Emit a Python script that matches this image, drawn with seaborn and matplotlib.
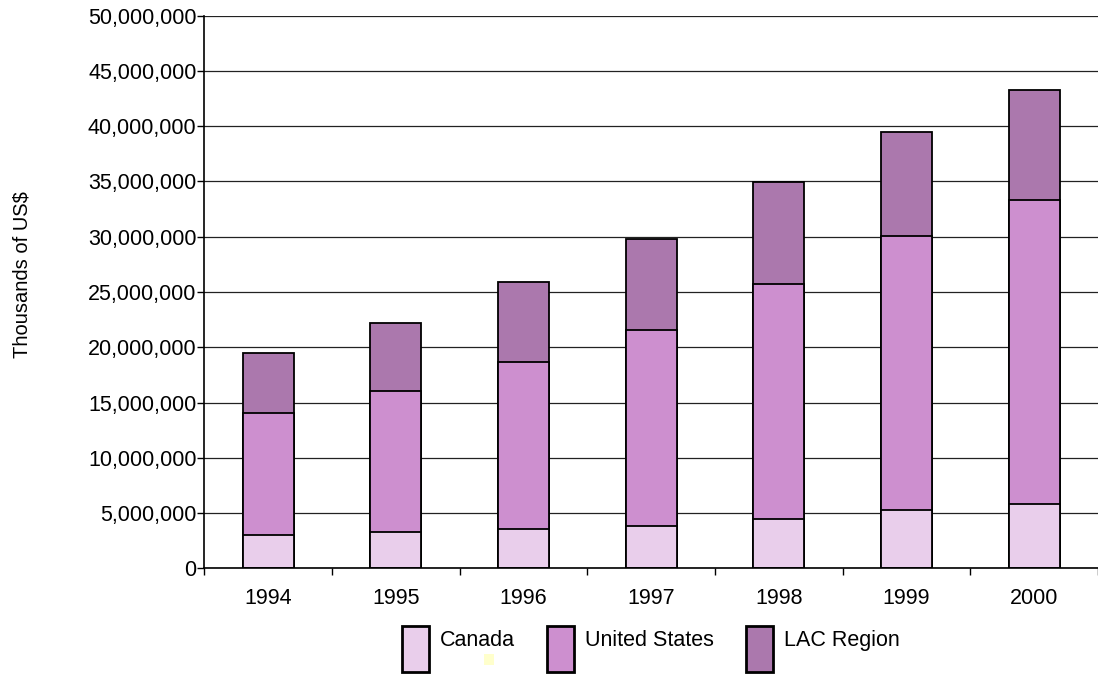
import matplotlib
matplotlib.use("Agg")
import matplotlib.pyplot as plt
import matplotlib.patches as mpatches
import matplotlib.ticker as mticker
import matplotlib.transforms as mtransforms
import numpy as np
import pandas as pd
import seaborn as sns

# Exports by destination, thousands of US$
years = ["1994", "1995", "1996", "1997", "1998", "1999", "2000"]
canada = [2980000, 3250000, 3530000, 3860000, 4490000, 5310000, 5820000]
united_states = [11070000, 12750000, 15160000, 17720000, 21250000, 24770000, 27540000]
lac_region = [5430000, 6150000, 7170000, 8200000, 9160000, 9420000, 9860000]
series_names = ["Canada", "United States", "LAC Region"]
series_colors = ["#e9ceeb", "#cd8fcf", "#ab78ad"]
ytick_values = list(range(0, 50000001, 5000000))

sns.set_style("white")
plt.rcParams["font.family"] = ["Liberation Sans", "DejaVu Sans"]
plt.rcParams["text.color"] = "black"
plt.rcParams["xtick.color"] = "black"
plt.rcParams["ytick.color"] = "black"
plt.rcParams["xtick.labelcolor"] = "black"
plt.rcParams["ytick.labelcolor"] = "black"

df = pd.DataFrame({
    "year": years,
    "Canada": canada,
    "United States": united_states,
    "LAC Region": lac_region,
})
df["cum_canada"] = df["Canada"]
df["cum_us"] = df["cum_canada"] + df["United States"]
df["cum_lac"] = df["cum_us"] + df["LAC Region"]

fig = plt.figure(figsize=(10.98, 6.75), dpi=100)
ax = fig.add_axes([0.186, 0.158, 0.814, 0.819])

# Horizontal gridlines behind the bars
ax.set_axisbelow(True)
ax.yaxis.grid(True, color="#222222", linewidth=0.9)
ax.xaxis.grid(False)

# Stacked bars: draw cumulative totals from the top segment down
bar_kw = dict(width=0.4, edgecolor="black", linewidth=1.3, ax=ax, errorbar=None)
sns.barplot(data=df, x="year", y="cum_lac", color=series_colors[2], saturation=1, **bar_kw)
sns.barplot(data=df, x="year", y="cum_us", color=series_colors[1], saturation=1, **bar_kw)
sns.barplot(data=df, x="year", y="cum_canada", color=series_colors[0], saturation=1, **bar_kw)

ax.set_xlim(-0.5, len(years) - 0.5)
ax.set_ylim(0, 50000000)
ax.set_yticks(ytick_values)
ax.yaxis.set_major_formatter(mticker.FuncFormatter(lambda v, p: f"{int(v):,}"))
ax.set_xlabel("")
ax.set_ylabel("")

# Category boundary ticks on the x axis, labels centred in each slot
ax.set_xticks(np.arange(-0.5, len(years), 1.0), minor=True)
ax.tick_params(axis="x", which="major", length=0, pad=14, labelsize=15.5)
ax.tick_params(axis="x", which="minor", length=5, width=1, color="black", direction="out")
ax.tick_params(axis="y", which="major", length=5, width=1, color="black",
               direction="out", pad=0.5, labelsize=15.5, left=True)
ax.tick_params(axis="x", bottom=True, which="both")

for side in ["top", "right"]:
    ax.spines[side].set_visible(False)
for side in ["left", "bottom"]:
    ax.spines[side].set_color("black")
    ax.spines[side].set_linewidth(1.2)

fig.text(0.020, 0.593, "Thousands of US$", rotation=90, ha="center", va="center",
         fontsize=14.5)

handles = [mpatches.Patch(facecolor=c, edgecolor="black", linewidth=2.0, label=n)
           for n, c in zip(series_names, series_colors)]
leg = fig.legend(handles=handles, loc="upper center", bbox_to_anchor=(0.593, 0.072),
                 ncol=3, frameon=False, fontsize=15.5, handlelength=1.25, handleheight=2.9,
                 handletextpad=0.5, columnspacing=1.5, borderpad=0, borderaxespad=0)
# Raise the legend labels toward the top of the tall swatches
for t in leg.get_texts():
    t.set_transform(t.get_transform() + mtransforms.Affine2D().translate(0, 10))

# Small pale marker beneath the legend
fig.patches.append(mpatches.Rectangle((484 / 1098, 1 - 665 / 675), 10 / 1098, 11 / 675,
                                      transform=fig.transFigure, facecolor="#ffffcc",
                                      edgecolor="none"))

fig.savefig("out.png", dpi=100)
